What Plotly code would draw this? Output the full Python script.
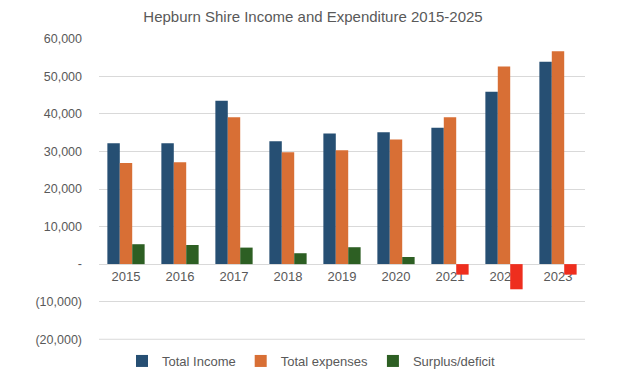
import plotly.graph_objects as go

years = ["2015", "2016", "2017", "2018", "2019", "2020", "2021", "2022", "2023"]
total_income = [32200, 32200, 43500, 32700, 34800, 35100, 36300, 45900, 53900]
total_expenses = [26900, 27100, 39100, 29800, 30300, 33200, 39100, 52600, 56700]
surplus_deficit = [5300, 5100, 4400, 2900, 4500, 1900, -2800, -6700, -2800]

y_tick_vals = [-20000, -10000, 0, 10000, 20000, 30000, 40000, 50000, 60000]
y_tick_text = ["(20,000)", "(10,000)", "-", "10,000", "20,000", "30,000", "40,000", "50,000", "60,000"]

c_income = "#264F73"
c_exp = "#D86F35"
c_pos = "#2D5F23"
c_neg = "#EE2E1E"
c_grid = "#D9D9D9"

surplus_colors = [c_pos if v >= 0 else c_neg for v in surplus_deficit]

fig = go.Figure()
fig.add_bar(x=years, y=total_income, name="Total Income", marker_color=c_income,
            marker_line_width=0)
fig.add_bar(x=years, y=total_expenses, name="Total expenses", marker_color=c_exp,
            marker_line_width=0)
fig.add_bar(x=years, y=surplus_deficit, name="Surplus/deficit", marker_color=surplus_colors,
            marker_line_width=0)

# gridline at the lowest tick (plotly drops gridlines sitting on the plot edge)
fig.add_shape(type="line", xref="paper", x0=0, x1=1, yref="y",
              y0=y_tick_vals[0], y1=y_tick_vals[0],
              line=dict(color=c_grid, width=1), layer="below")

fig.update_layout(
    width=627, height=376,
    barmode="group", bargap=0.31, bargroupgap=0,
    paper_bgcolor="white", plot_bgcolor="white",
    margin=dict(l=99, r=42, t=38, b=36, autoexpand=False),
    font=dict(family="Liberation Sans, Arial, sans-serif", size=12, color="#595959"),
    title=dict(text="Hepburn Shire Income and Expenditure 2015-2025",
               x=313/627, xanchor="center", xref="container",
               yref="container", y=1 - 17/376, yanchor="middle",
               font=dict(size=15, color="#595959")),
    legend=dict(orientation="h", x=311/627, xanchor="center", xref="container",
                yref="container", y=15/376, yanchor="middle",
                font=dict(size=13, color="#595959"), itemwidth=30,
                traceorder="normal"),
    showlegend=True,
)

fig.update_yaxes(range=[-20200, 60200], tickvals=y_tick_vals, ticktext=y_tick_text,
                 showgrid=True, gridcolor=c_grid, gridwidth=1,
                 zeroline=True, zerolinecolor=c_grid, zerolinewidth=1,
                 showline=False, ticks="", ticklabelstandoff=16, domain=[0, 1],
                 automargin=False, tickfont=dict(size=12.5, color="#595959"))
fig.update_xaxes(anchor="free", position=20200/80400, showgrid=False, showline=False,
                 ticks="", zeroline=False, automargin=False, layer="below traces",
                 ticklabelstandoff=3, tickfont=dict(size=13, color="#595959"))

fig.write_html("out.html", config={"displayModeBar": False},
               post_script="document.body.style.margin='0px';")
